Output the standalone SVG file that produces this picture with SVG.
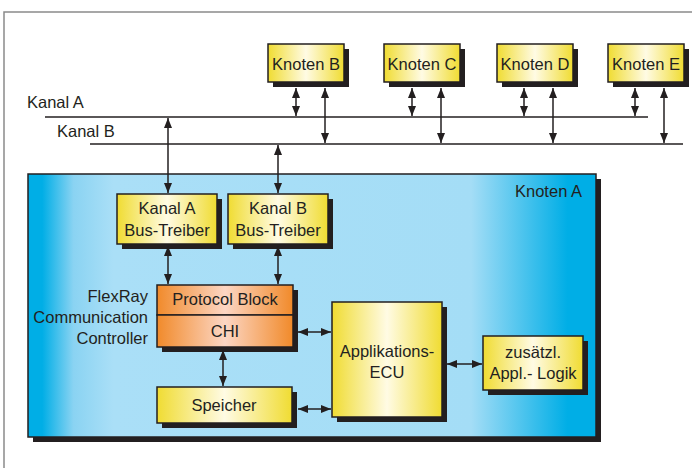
<svg xmlns="http://www.w3.org/2000/svg" width="692" height="468" viewBox="0 0 692 468">
<defs>
<linearGradient id="gBlue" x1="0" x2="1" y1="0" y2="0">
<stop offset="0" stop-color="#00aee6"/>
<stop offset="0.025" stop-color="#00aee6"/>
<stop offset="0.08" stop-color="#8ad3f2"/>
<stop offset="0.15" stop-color="#aadff7"/>
<stop offset="0.78" stop-color="#a4ddf6"/>
<stop offset="0.95" stop-color="#00aee6"/>
<stop offset="1" stop-color="#00aee6"/>
</linearGradient>
<linearGradient id="gYel" x1="0" x2="1" y1="0" y2="0">
<stop offset="0" stop-color="#f0dc32"/>
<stop offset="0.5" stop-color="#fffbe4"/>
<stop offset="1" stop-color="#f0dc32"/>
</linearGradient>
<linearGradient id="gOra" x1="0" x2="1" y1="0" y2="0">
<stop offset="0" stop-color="#f18a2a"/>
<stop offset="0.5" stop-color="#fcd6c4"/>
<stop offset="1" stop-color="#f18a2a"/>
</linearGradient>
<marker id="ah" viewBox="0 0 10 8" refX="10" refY="4" markerWidth="10" markerHeight="8" markerUnits="userSpaceOnUse" orient="auto-start-reverse">
<path d="M0,0 L10,4 L0,8 z" fill="#231f20"/>
</marker>
</defs>
<style>
text{font-family:"Liberation Sans",Arial,sans-serif;font-size:16.5px;fill:#231f20}
.c{text-anchor:middle}
.r{text-anchor:end}
.sh{fill:#231f20}
.bx{stroke:#231f20;stroke-width:1.5}
.y{fill:url(#gYel)}
.o{fill:url(#gOra)}
.bus{stroke:#231f20;stroke-width:1.5;fill:none}
.ar{stroke:#231f20;stroke-width:1.5;fill:none;marker-start:url(#ah);marker-end:url(#ah)}
</style>
<rect width="692" height="468" fill="#ffffff"/>
<path d="M4,468 V12 H692" fill="none" stroke="#8a8a8a" stroke-width="1.5"/>

<g id="knotenA">
<rect x="33" y="179" width="568" height="263" class="sh"/>
<rect x="28" y="174" width="568" height="263" fill="url(#gBlue)" stroke="#231f20" stroke-width="1.5"/>
<text x="582" y="197" class="r">Knoten A</text>
</g>

<g id="kanalA">
<text x="27" y="108">Kanal A</text>
</g>
<g id="kanalB">
<text x="57" y="137">Kanal B</text>
</g>

<g id="knotenB">
<rect x="273" y="49" width="76" height="38" class="sh"/>
<rect x="268" y="44" width="76" height="38" class="bx y"/>
<text x="306" y="70" class="c">Knoten B</text>
</g>
<g id="knotenC">
<rect x="389" y="49" width="76" height="38" class="sh"/>
<rect x="384" y="44" width="76" height="38" class="bx y"/>
<text x="422" y="70" class="c">Knoten C</text>
</g>
<g id="knotenD">
<rect x="502" y="49" width="76" height="38" class="sh"/>
<rect x="497" y="44" width="76" height="38" class="bx y"/>
<text x="535" y="70" class="c">Knoten D</text>
</g>
<g id="knotenE">
<rect x="613" y="49" width="76" height="38" class="sh"/>
<rect x="608" y="44" width="76" height="38" class="bx y"/>
<text x="646" y="70" class="c">Knoten E</text>
</g>

<g id="busTreiberA">
<rect x="122" y="199" width="100" height="50" class="sh"/>
<rect x="117" y="194" width="100" height="50" class="bx y"/>
<text x="167" y="214" class="c">Kanal A</text>
<text x="167" y="236" class="c">Bus-Treiber</text>
</g>
<g id="busTreiberB">
<rect x="233" y="199" width="100" height="50" class="sh"/>
<rect x="228" y="194" width="100" height="50" class="bx y"/>
<text x="278" y="214" class="c">Kanal B</text>
<text x="278" y="236" class="c">Bus-Treiber</text>
</g>

<g id="controller">
<rect x="162" y="290" width="136" height="62" class="sh"/>
<rect x="157" y="285" width="136" height="30" class="bx o"/>
<rect x="157" y="315" width="136" height="32" class="bx o"/>
<text x="225" y="305" class="c">Protocol Block</text>
<text x="225" y="337" class="c">CHI</text>
<text x="148" y="302" class="r">FlexRay</text>
<text x="148" y="323" class="r">Communication</text>
<text x="148" y="344" class="r">Controller</text>
</g>

<g id="speicher">
<rect x="162" y="392" width="135" height="36" class="sh"/>
<rect x="157" y="387" width="135" height="36" class="bx y"/>
<text x="224" y="411" class="c">Speicher</text>
</g>

<g id="ecu">
<rect x="337" y="307" width="110" height="115" class="sh"/>
<rect x="332" y="302" width="110" height="115" class="bx y"/>
<text x="387" y="357" class="c">Applikations-</text>
<text x="387" y="378" class="c">ECU</text>
</g>

<g id="logik">
<rect x="488" y="341" width="100" height="54" class="sh"/>
<rect x="483" y="336" width="100" height="54" class="bx y"/>
<text x="533" y="358" class="c">zusätzl.</text>
<text x="533" y="379" class="c">Appl.- Logik</text>
</g>

<g id="connectors">
<line x1="45" y1="117" x2="648" y2="117" class="bus"/>
<line x1="90" y1="144" x2="683" y2="144" class="bus"/>
<line x1="296" y1="88" x2="296" y2="116" class="ar"/>
<line x1="325" y1="88" x2="325" y2="143" class="ar"/>
<line x1="412" y1="88" x2="412" y2="116" class="ar"/>
<line x1="441" y1="88" x2="441" y2="143" class="ar"/>
<line x1="524" y1="88" x2="524" y2="116" class="ar"/>
<line x1="553" y1="88" x2="553" y2="143" class="ar"/>
<line x1="635" y1="88" x2="635" y2="116" class="ar"/>
<line x1="664" y1="88" x2="664" y2="143" class="ar"/>
<line x1="168" y1="118" x2="168" y2="193" class="ar"/>
<line x1="278" y1="145" x2="278" y2="193" class="ar"/>
<line x1="168" y1="246" x2="168" y2="284" class="ar"/>
<line x1="278" y1="246" x2="278" y2="284" class="ar"/>
<line x1="223" y1="350" x2="223" y2="386" class="ar"/>
<line x1="298" y1="332" x2="331" y2="332" class="ar"/>
<line x1="298" y1="409" x2="331" y2="409" class="ar"/>
<line x1="447" y1="364" x2="482" y2="364" class="ar"/>
</g>
</svg>
